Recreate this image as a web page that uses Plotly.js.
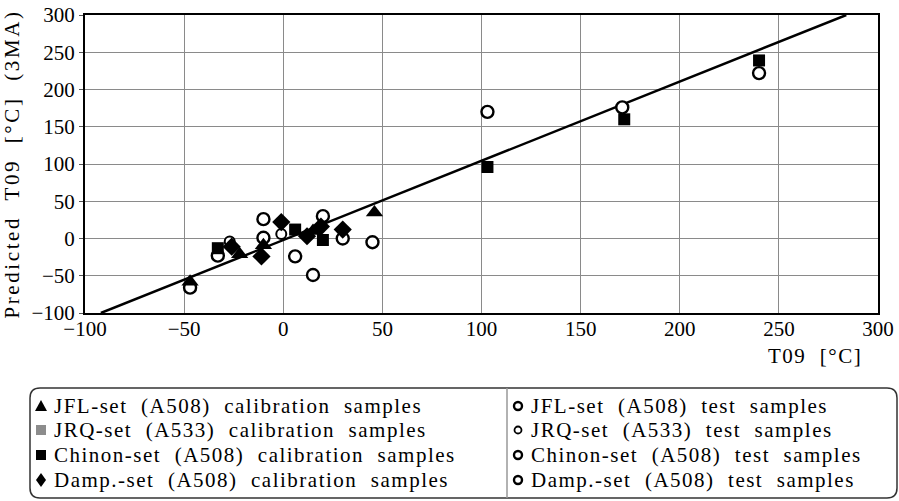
<!DOCTYPE html>
<html><head><meta charset="utf-8">
<script src="https://cdn.plot.ly/plotly-3.0.1.min.js"></script>
<style>html,body{margin:0;padding:0;background:#fff;} #chart{width:899px;height:501px;}</style>
</head><body><div id="chart"></div>
<script>
// ---- data ----
const jflCalX = [-47, -22, 46, 15, -10];
const jflCalY = [-58, -21, 35, 10, -9];
const jrqCalX = [];
const jrqCalY = [];
const chinonCalX = [-33, 6, 20, 103, 172, 240];
const chinonCalY = [-13, 12, -2, 96, 160, 239];
const dampCalX = [-26, -11, -1, 12, 19, 30];
const dampCalY = [-11, -24, 22, 3, 16, 12];
const jflTestX = [-47, 45, 15, -10];
const jflTestY = [-66, -5, -49, 26];
const jrqTestX = [-27, -1];
const jrqTestY = [-4, 6];
const chinonTestX = [-33, 103, 171, 240, 6, 20];
const chinonTestY = [-23, 170, 176, 222, -24, 30];
const dampTestX = [-10, 30];
const dampTestY = [1, 0];
const fitX = [-92, 284];
const fitY = [-100, 300];

const calLabels = ['JFL-set (A508) calibration samples', 'JRQ-set (A533) calibration samples',
                   'Chinon-set (A508) calibration samples', 'Damp.-set (A508) calibration samples'];
const testLabels = ['JFL-set (A508) test samples', 'JRQ-set (A533) test samples',
                    'Chinon-set (A508) test samples', 'Damp.-set (A508) test samples'];
const xAxisTitle = 'T09 [°C]';
const yAxisTitle = 'Predicted T09 [°C] (3MA)';

// ---- styling / layout ----
const FONT_FAMILY = 'Liberation Serif';
const MARG = {l: 85, r: 21, t: 15, b: 188};
const WIDTH = 899, HEIGHT = 501;
const plotW = WIDTH - MARG.l - MARG.r, plotH = HEIGHT - MARG.t - MARG.b;
const px2paperX = p => (p - MARG.l) / plotW;
const px2paperY = p => (HEIGHT - MARG.b - p) / plotH;
const spaced = s => s.replace(/ /g, '\u00A0 ');

function openCircle(x, y, name, size, lw) {
  return {type: 'scatter', mode: 'markers', x, y, name, showlegend: false, hoverinfo: 'x+y',
    marker: {symbol: 'circle', size: size, color: 'white', line: {color: 'black', width: lw}}};
}
function filled(x, y, name, symbol, size, color) {
  return {type: 'scatter', mode: 'markers', x, y, name, showlegend: false, hoverinfo: 'x+y',
    marker: {symbol: symbol, size: size, color: color, line: {width: 0}}};
}

const traces = [
  {type: 'scatter', mode: 'lines', x: fitX, y: fitY, showlegend: false, hoverinfo: 'skip',
   line: {color: 'black', width: 2.5}},
  openCircle(jflTestX, jflTestY, testLabels[0], 12, 2.4),
  openCircle(jrqTestX, jrqTestY, testLabels[1], 10, 2),
  openCircle(chinonTestX, chinonTestY, testLabels[2], 12, 2.4),
  openCircle(dampTestX, dampTestY, testLabels[3], 12, 2.4),
  filled(jflCalX, jflCalY, calLabels[0], 'triangle-up', 15, 'black'),
  filled(jrqCalX, jrqCalY, calLabels[1], 'square', 11, '#8c8c8c'),
  filled(chinonCalX, chinonCalY, calLabels[2], 'square', 12, 'black'),
  filled(dampCalX, dampCalY, calLabels[3], 'diamond', 14, 'black')
];

function axisOpts(extra) {
  return Object.assign({
    range: [-100, 300], dtick: 50, tick0: 0,
    showgrid: true, gridcolor: '#8a8a8a', gridwidth: 1,
    zeroline: false, showline: true, linecolor: 'black', linewidth: 2, mirror: true,
    tickfont: {family: FONT_FAMILY, size: 21, color: 'black'}, fixedrange: true
  }, extra);
}

// legend box (drawn as shapes + annotations)
const bL = 30, bR = 897, bT = 388, bB = 498, rr = 10;
const PX = px2paperX, PY = px2paperY;
const boxPath = [
  `M${PX(bL + rr)},${PY(bT)}`, `L${PX(bR - rr)},${PY(bT)}`, `Q${PX(bR)},${PY(bT)} ${PX(bR)},${PY(bT + rr)}`,
  `L${PX(bR)},${PY(bB - rr)}`, `Q${PX(bR)},${PY(bB)} ${PX(bR - rr)},${PY(bB)}`,
  `L${PX(bL + rr)},${PY(bB)}`, `Q${PX(bL)},${PY(bB)} ${PX(bL)},${PY(bB - rr)}`,
  `L${PX(bL)},${PY(bT + rr)}`, `Q${PX(bL)},${PY(bT)} ${PX(bL + rr)},${PY(bT)}`, 'Z'
].join(' ');

const rowsY = [406, 430, 455, 480];
const calPaths = [
  'M-6,-5 L6,-5 L0,6 Z',
  'M-5,-5 L5,-5 L5,5 L-5,5 Z',
  'M-5,-5 L5,-5 L5,5 L-5,5 Z',
  'M0,-7 L5,0 L0,7 L-5,0 Z'
];
const calColors = ['black', '#8c8c8c', 'black', 'black'];
const ringR = [4, 3.5, 4, 4];
const ringW = [2.4, 1.8, 2.4, 2.4];

const shapes = [
  {type: 'path', xref: 'paper', yref: 'paper', path: boxPath, line: {color: '#333', width: 1.5}},
  {type: 'line', xref: 'paper', yref: 'paper', x0: PX(507), x1: PX(507), y0: PY(bT), y1: PY(bB),
   line: {color: '#999', width: 1.5}}
];
const annotations = [];
const LS = 'letter-spacing:1.5px';
rowsY.forEach((py, i) => {
  shapes.push({type: 'path', xref: 'paper', yref: 'paper', xsizemode: 'pixel', ysizemode: 'pixel',
    xanchor: PX(41), yanchor: PY(py), path: calPaths[i], fillcolor: calColors[i], line: {width: 0}});
  shapes.push({type: 'circle', xref: 'paper', yref: 'paper', xsizemode: 'pixel', ysizemode: 'pixel',
    xanchor: PX(518), yanchor: PY(py), x0: -ringR[i], x1: ringR[i], y0: -ringR[i], y1: ringR[i],
    fillcolor: 'white', line: {color: 'black', width: ringW[i]}});
  annotations.push({xref: 'paper', yref: 'paper', x: PX(52), y: PY(py), xanchor: 'left', yanchor: 'middle',
    text: `<span style="${LS}">${spaced(calLabels[i])}</span>`, showarrow: false,
    font: {family: FONT_FAMILY, size: 21, color: 'black'}});
  annotations.push({xref: 'paper', yref: 'paper', x: PX(529), y: PY(py), xanchor: 'left', yanchor: 'middle',
    text: `<span style="${LS}">${spaced(testLabels[i])}</span>`, showarrow: false,
    font: {family: FONT_FAMILY, size: 21, color: 'black'}});
});
annotations.push({xref: 'paper', yref: 'paper', x: PX(864), y: PY(356), xanchor: 'right', yanchor: 'middle',
  text: `<span style="letter-spacing:1.5px">${spaced(xAxisTitle)}</span>`, showarrow: false,
  font: {family: FONT_FAMILY, size: 21, color: 'black'}});

const layout = {
  width: WIDTH, height: HEIGHT, margin: MARG, paper_bgcolor: 'white', plot_bgcolor: 'white',
  font: {family: FONT_FAMILY, size: 21, color: 'black'},
  showlegend: false,
  xaxis: axisOpts({ticks: '', ticklabelstandoff: -4}),
  yaxis: axisOpts({ticks: 'outside', ticklen: 4, tickcolor: '#555', tickwidth: 1,
    title: {text: `<span style="letter-spacing:2.6px">${spaced(yAxisTitle)}</span>`,
            font: {family: FONT_FAMILY, size: 21, color: 'black'}, standoff: 8}}),
  shapes: shapes,
  annotations: annotations
};

Plotly.newPlot('chart', traces, layout, {displayModeBar: false});
</script>
</body></html>
